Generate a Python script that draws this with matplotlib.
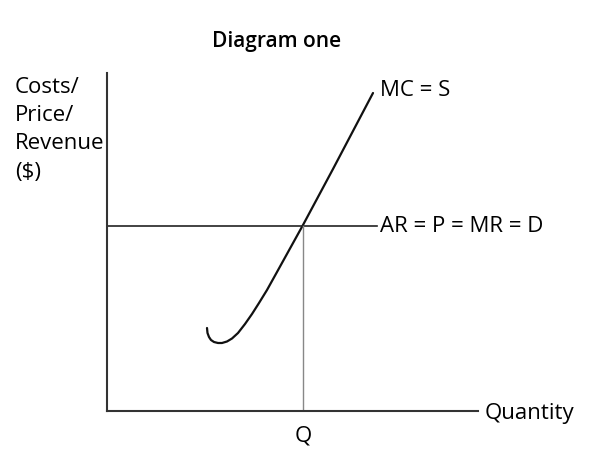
import matplotlib.pyplot as plt

plt.rcParams['font.family'] = ['Open Sans', 'DejaVu Sans']

# MC curve points (quantity, cost)
mc_q = [100, 100.5, 102, 104, 107, 111, 115, 120, 125, 131, 138, 145, 152, 160, 170, 196, 226, 266]
mc_c = [83, 78, 74, 71, 69, 68, 68, 69.5, 72.5, 78, 87, 97, 108, 121, 139, 186, 242, 318]

price = 185
q_star = 196
ar_end = 270

fig = plt.figure(figsize=(6, 4.59), dpi=100)
ax = fig.add_axes([107 / 600, 48 / 459, 371 / 600, 338 / 459])
ax.set_xlim(0, 371)
ax.set_ylim(0, 338)

for s in ['top', 'right']:
    ax.spines[s].set_visible(False)
for s in ['left', 'bottom']:
    ax.spines[s].set_color('#333333')
    ax.spines[s].set_linewidth(1.5)
ax.set_xticks([])
ax.set_yticks([])

ax.plot(mc_q, mc_c, color='#111111', lw=1.6, solid_capstyle='round',
        solid_joinstyle='round', clip_on=False)
ax.plot([0, ar_end], [price, price], color='#222222', lw=1.2, clip_on=False)
ax.plot([q_star, q_star], [0, price], color='#888888', lw=1.0)

fs = 16
ax.text(ar_end + 3, price, 'AR = P = MR = D', fontsize=fs, va='center', ha='left')
ax.text(mc_q[-1] + 7, mc_c[-1] + 3, 'MC = S', fontsize=fs, va='center', ha='left')
ax.text(378, -2, 'Quantity', fontsize=fs, va='center', ha='left', clip_on=False)
ax.text(q_star, -25, 'Q', fontsize=fs, va='center', ha='center')

fig.text(15 / 600, 1 - 77 / 459, 'Costs/\nPrice/\nRevenue\n($)', fontsize=fs,
         va='top', ha='left', linespacing=1.45)
fig.text(277 / 600, 1 - 41 / 459, 'Diagram one', fontsize=15, fontweight='semibold',
         va='center', ha='center')

plt.savefig('out.png', dpi=100)
